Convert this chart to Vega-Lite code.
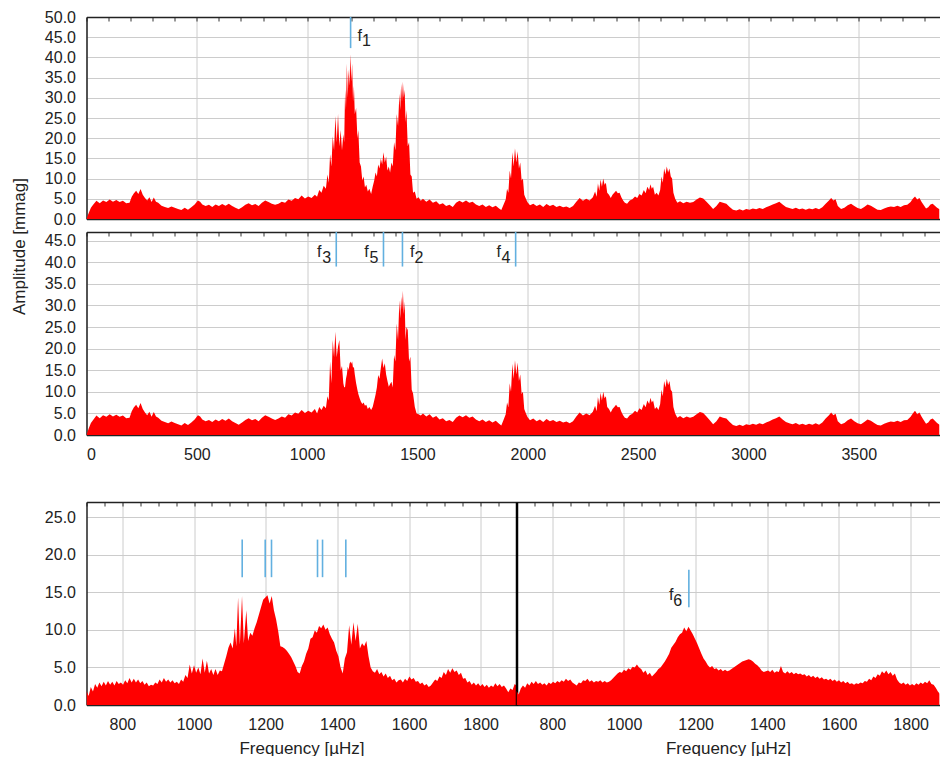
{
"$schema": "https://vega.github.io/schema/vega-lite/v6.json",
"padding": {"left": 10.5, "top": 9, "right": 0, "bottom": 0},
"background": "white",
"config": {
  "view": {"stroke": null},
  "font": "Liberation Sans",
  "axis": {"labelFont": "Liberation Sans", "labelFontSize": 16, "labelColor": "#222", "titleFont": "Liberation Sans", "titleFontSize": 17, "titleFontWeight": "normal", "titleColor": "#222", "gridColor": "#cccccc", "gridWidth": 1, "ticks": false, "domainColor": "#222", "domainWidth": 1.5, "labelPadding": 11},
  "text": {"font": "Liberation Sans", "fontSize": 16, "color": "#222", "baseline": "alphabetic"},
  "rule": {"color": "#62b0e0", "strokeWidth": 1.6}
},
"datasets": {
  "spec": [
{"f":0,"a1":0,"a2":0},{"f":10,"a1":1.5,"a2":1.5},{"f":20,"a1":2.8,"a2":2.8},{"f":30,"a1":3.5,"a2":3.5},{"f":45,"a1":4.5,"a2":4.5},{"f":60,"a1":3.9,"a2":3.9},{"f":75,"a1":4.6,"a2":4.6},{"f":90,"a1":4.2,"a2":4.2},{"f":105,"a1":4.8,"a2":4.8},{"f":120,"a1":4.3,"a2":4.3},{"f":135,"a1":4.7,"a2":4.7},{"f":150,"a1":4.2,"a2":4.2},{"f":165,"a1":4.5,"a2":4.5},{"f":180,"a1":3.9,"a2":3.9},{"f":195,"a1":4.0,"a2":4.0},{"f":205,"a1":5.5,"a2":5.5},{"f":215,"a1":6.4,"a2":6.4},{"f":225,"a1":7.0,"a2":7.0},{"f":235,"a1":6.2,"a2":6.2},{"f":245,"a1":7.4,"a2":7.4},{"f":255,"a1":6.0,"a2":6.0},{"f":265,"a1":5.2,"a2":5.2},{"f":275,"a1":4.6,"a2":4.6},{"f":285,"a1":5.4,"a2":5.4},{"f":295,"a1":4.2,"a2":4.2},{"f":305,"a1":5.3,"a2":5.3},{"f":315,"a1":4.3,"a2":4.3},{"f":325,"a1":4.0,"a2":4.0},{"f":340,"a1":3.3,"a2":3.3},{"f":355,"a1":3.0,"a2":3.0},{"f":370,"a1":2.7,"a2":2.7},{"f":385,"a1":3.1,"a2":3.1},{"f":400,"a1":2.8,"a2":2.8},{"f":415,"a1":2.5,"a2":2.5},{"f":430,"a1":2.2,"a2":2.2},{"f":445,"a1":2.8,"a2":2.8},{"f":460,"a1":2.3,"a2":2.3},{"f":475,"a1":2.9,"a2":2.9},{"f":490,"a1":3.6,"a2":3.6},{"f":505,"a1":4.6,"a2":4.6},{"f":515,"a1":4.3,"a2":4.3},{"f":525,"a1":3.6,"a2":3.6},{"f":540,"a1":3.2,"a2":3.2},{"f":555,"a1":3.5,"a2":3.5},{"f":570,"a1":3.0,"a2":3.0},{"f":585,"a1":3.6,"a2":3.6},{"f":600,"a1":3.2,"a2":3.2},{"f":615,"a1":3.7,"a2":3.7},{"f":630,"a1":3.3,"a2":3.3},{"f":645,"a1":3.8,"a2":3.8},{"f":660,"a1":3.2,"a2":3.2},{"f":675,"a1":2.8,"a2":2.8},{"f":690,"a1":2.4,"a2":2.4},{"f":705,"a1":2.9,"a2":2.9},{"f":720,"a1":3.5,"a2":3.5},{"f":735,"a1":3.9,"a2":3.9},{"f":750,"a1":3.4,"a2":3.4},{"f":765,"a1":3.7,"a2":3.7},{"f":780,"a1":3.2,"a2":3.2},{"f":795,"a1":4.0,"a2":4.0},{"f":810,"a1":4.6,"a2":4.6},{"f":825,"a1":4.2,"a2":4.2},{"f":840,"a1":3.8,"a2":3.8},{"f":855,"a1":3.5,"a2":3.5},{"f":870,"a1":3.8,"a2":3.8},{"f":885,"a1":4.3,"a2":4.3},{"f":900,"a1":4.0,"a2":4.0},{"f":915,"a1":4.8,"a2":4.8},{"f":930,"a1":4.5,"a2":4.5},{"f":945,"a1":5.2,"a2":5.2},{"f":960,"a1":4.9,"a2":4.9},{"f":975,"a1":5.8,"a2":5.8},{"f":990,"a1":5.1,"a2":5.1},{"f":1005,"a1":5.6,"a2":5.6},{"f":1020,"a1":5.2,"a2":5.2},{"f":1035,"a1":6.0,"a2":6.0},
{"f":1045,"a1":5.5,"a2":5.0},{"f":1055,"a1":7.2,"a2":6.5},{"f":1065,"a1":6.5,"a2":5.8},{"f":1075,"a1":8.2,"a2":6.8},{"f":1085,"a1":7.5,"a2":6.2},{"f":1092,"a1":11,"a2":9},{"f":1098,"a1":9,"a2":8},{"f":1104,"a1":16,"a2":17},{"f":1110,"a1":13,"a2":12},{"f":1116,"a1":20.5,"a2":22},{"f":1122,"a1":17,"a2":18},{"f":1128,"a1":25.5,"a2":23.9},{"f":1134,"a1":19,"a2":18},{"f":1140,"a1":26,"a2":20.5},{"f":1146,"a1":18,"a2":22},{"f":1152,"a1":22,"a2":15},{"f":1158,"a1":17,"a2":16},{"f":1164,"a1":21,"a2":12},{"f":1168,"a1":19,"a2":11},{"f":1172,"a1":32,"a2":11.2},{"f":1176,"a1":27,"a2":13},{"f":1180,"a1":38.5,"a2":14},{"f":1184,"a1":30,"a2":15.8},{"f":1188,"a1":37,"a2":15},{"f":1192,"a1":33,"a2":16.5},{"f":1196,"a1":40.8,"a2":17},{"f":1200,"a1":34,"a2":16.5},{"f":1204,"a1":38.5,"a2":17},{"f":1208,"a1":29,"a2":15.5},{"f":1212,"a1":33,"a2":15.8},{"f":1216,"a1":26,"a2":14},{"f":1222,"a1":27.5,"a2":12},{"f":1228,"a1":20,"a2":10.4},{"f":1232,"a1":22,"a2":9.5},{"f":1238,"a1":14,"a2":8.5},{"f":1244,"a1":13,"a2":7.7},{"f":1250,"a1":9.5,"a2":7.2},{"f":1256,"a1":10.5,"a2":7.5},{"f":1262,"a1":7.8,"a2":6.8},{"f":1268,"a1":8.5,"a2":7.0},{"f":1275,"a1":6.8,"a2":6.0},{"f":1282,"a1":7.5,"a2":6.5},{"f":1290,"a1":6.2,"a2":5.8},{"f":1297,"a1":8.0,"a2":6.5},{"f":1304,"a1":9.5,"a2":8.0},{"f":1310,"a1":11.5,"a2":9.3},{"f":1316,"a1":10.5,"a2":11},{"f":1322,"a1":13.5,"a2":13.9},{"f":1328,"a1":12.5,"a2":13},{"f":1334,"a1":15.0,"a2":15.5},{"f":1340,"a1":13.5,"a2":17.7},{"f":1346,"a1":16.5,"a2":15.5},{"f":1352,"a1":14,"a2":16.6},{"f":1358,"a1":15.5,"a2":14},{"f":1364,"a1":12,"a2":12.5},{"f":1370,"a1":13,"a2":11.2},{"f":1376,"a1":11.5,"a2":11.8},{"f":1382,"a1":14,"a2":12.3},{"f":1388,"a1":13,"a2":11},{"f":1394,"a1":19,"a2":18.5},{"f":1400,"a1":17,"a2":17},{"f":1406,"a1":26,"a2":25.8},{"f":1412,"a1":23,"a2":22},{"f":1418,"a1":31,"a2":31.2},{"f":1422,"a1":27,"a2":27},{"f":1426,"a1":33.5,"a2":32},{"f":1430,"a1":29,"a2":29},{"f":1434,"a1":34,"a2":33.4},{"f":1438,"a1":30,"a2":28},{"f":1442,"a1":32,"a2":30.9},{"f":1446,"a1":24,"a2":22},{"f":1450,"a1":27,"a2":25},{"f":1456,"a1":18,"a2":24.3},{"f":1462,"a1":19,"a2":17},{"f":1468,"a1":11,"a2":18.1},{"f":1474,"a1":10.5,"a2":10.5},{"f":1480,"a1":6.5,"a2":9.6},{"f":1488,"a1":6.8,"a2":6.5},{"f":1496,"a1":5.0,"a2":5.0},{"f":1505,"a1":5.4,"a2":4.8},
{"f":1515,"a1":4.5,"a2":4.5},{"f":1525,"a1":5.0,"a2":5.0},{"f":1540,"a1":4.3,"a2":4.3},{"f":1555,"a1":4.8,"a2":4.8},{"f":1570,"a1":4.0,"a2":4.0},{"f":1585,"a1":4.4,"a2":4.4},{"f":1600,"a1":3.6,"a2":3.6},{"f":1615,"a1":3.9,"a2":3.9},{"f":1630,"a1":3.2,"a2":3.2},{"f":1645,"a1":3.5,"a2":3.5},{"f":1660,"a1":3.0,"a2":3.0},{"f":1675,"a1":4.0,"a2":4.0},{"f":1690,"a1":4.5,"a2":4.5},{"f":1705,"a1":4.1,"a2":4.1},{"f":1720,"a1":4.6,"a2":4.6},{"f":1735,"a1":4.0,"a2":4.0},{"f":1750,"a1":4.3,"a2":4.3},{"f":1765,"a1":3.6,"a2":3.6},{"f":1780,"a1":3.2,"a2":3.2},{"f":1795,"a1":3.6,"a2":3.6},{"f":1810,"a1":3.0,"a2":3.0},{"f":1825,"a1":3.4,"a2":3.4},{"f":1840,"a1":2.9,"a2":2.9},{"f":1855,"a1":3.3,"a2":3.3},{"f":1870,"a1":2.6,"a2":2.6},{"f":1880,"a1":2.2,"a2":2.2},{"f":1890,"a1":3.5,"a2":3.5},{"f":1900,"a1":4.8,"a2":4.8},{"f":1906,"a1":7.5,"a2":7.5},{"f":1912,"a1":6.5,"a2":6.5},{"f":1918,"a1":12,"a2":12},{"f":1924,"a1":10,"a2":10},{"f":1930,"a1":16.5,"a2":16.5},{"f":1936,"a1":13,"a2":13},{"f":1942,"a1":17.5,"a2":17.3},{"f":1948,"a1":14,"a2":14},{"f":1954,"a1":16.8,"a2":16.8},{"f":1960,"a1":12.5,"a2":12.5},{"f":1966,"a1":14,"a2":14},{"f":1972,"a1":9.5,"a2":9.5},{"f":1978,"a1":10,"a2":10},{"f":1984,"a1":6,"a2":6},{"f":1990,"a1":5.2,"a2":5.2},{"f":1998,"a1":4.2,"a2":4.2},{"f":2010,"a1":3.4,"a2":3.4},{"f":2025,"a1":3.8,"a2":3.8},{"f":2040,"a1":3.2,"a2":3.2},{"f":2055,"a1":3.6,"a2":3.6},{"f":2070,"a1":3.0,"a2":3.0},{"f":2085,"a1":3.7,"a2":3.7},{"f":2100,"a1":3.2,"a2":3.2},{"f":2115,"a1":3.5,"a2":3.5},{"f":2130,"a1":3.0,"a2":3.0},{"f":2145,"a1":3.3,"a2":3.3},{"f":2160,"a1":2.9,"a2":2.9},{"f":2175,"a1":3.1,"a2":3.1},{"f":2190,"a1":2.7,"a2":2.7},{"f":2205,"a1":3.2,"a2":3.2},{"f":2220,"a1":4.3,"a2":4.3},{"f":2235,"a1":5.2,"a2":5.2},{"f":2250,"a1":4.5,"a2":4.5},{"f":2265,"a1":5.0,"a2":5.0},{"f":2280,"a1":4.6,"a2":4.6},{"f":2295,"a1":5.4,"a2":5.4},{"f":2305,"a1":6.8,"a2":6.8},{"f":2312,"a1":5.5,"a2":5.5},{"f":2318,"a1":8.8,"a2":8.8},{"f":2324,"a1":7.0,"a2":7.0},{"f":2330,"a1":9.8,"a2":9.8},{"f":2336,"a1":8.0,"a2":8.0},{"f":2342,"a1":10,"a2":10},{"f":2348,"a1":8.5,"a2":8.5},{"f":2354,"a1":9.0,"a2":9.0},{"f":2360,"a1":6.5,"a2":6.5},{"f":2368,"a1":6.0,"a2":6.0},{"f":2376,"a1":5.2,"a2":5.2},{"f":2384,"a1":6.0,"a2":6.0},{"f":2392,"a1":6.5,"a2":6.5},{"f":2400,"a1":7.0,"a2":7.0},{"f":2408,"a1":6.4,"a2":6.4},{"f":2416,"a1":6.5,"a2":6.5},{"f":2424,"a1":5.4,"a2":5.4},{"f":2432,"a1":4.6,"a2":4.6},{"f":2440,"a1":4.0,"a2":4.0},{"f":2450,"a1":3.8,"a2":3.8},{"f":2462,"a1":4.6,"a2":4.6},{"f":2474,"a1":4.9,"a2":4.9},{"f":2486,"a1":5.6,"a2":5.6},{"f":2496,"a1":5.2,"a2":5.2},{"f":2506,"a1":6.2,"a2":6.2},{"f":2516,"a1":5.8,"a2":5.8},{"f":2526,"a1":7.2,"a2":7.2},{"f":2534,"a1":6.4,"a2":6.4},{"f":2542,"a1":8.0,"a2":8.0},{"f":2550,"a1":7.2,"a2":7.2},{"f":2556,"a1":8.6,"a2":8.6},{"f":2562,"a1":7.5,"a2":7.5},{"f":2568,"a1":8.0,"a2":8.0},{"f":2576,"a1":6.0,"a2":6.0},{"f":2584,"a1":6.5,"a2":6.5},{"f":2592,"a1":5.8,"a2":5.8},{"f":2600,"a1":7.2,"a2":7.2},{"f":2606,"a1":10.5,"a2":10.5},{"f":2612,"a1":9,"a2":9},{"f":2618,"a1":12.5,"a2":12.5},{"f":2624,"a1":11,"a2":11},{"f":2630,"a1":13,"a2":13},{"f":2636,"a1":11.5,"a2":11.5},{"f":2642,"a1":12.5,"a2":12.5},{"f":2648,"a1":10.5,"a2":10.5},{"f":2654,"a1":10,"a2":10},{"f":2660,"a1":6.5,"a2":6.5},{"f":2668,"a1":5.0,"a2":5.0},{"f":2678,"a1":4.0,"a2":4.0},{"f":2690,"a1":4.4,"a2":4.4},{"f":2705,"a1":3.9,"a2":3.9},{"f":2720,"a1":4.3,"a2":4.3},{"f":2735,"a1":4.0,"a2":4.0},{"f":2750,"a1":4.2,"a2":4.2},{"f":2765,"a1":4.8,"a2":4.8},{"f":2780,"a1":5.3,"a2":5.3},{"f":2795,"a1":5.1,"a2":5.1},{"f":2810,"a1":4.3,"a2":4.3},{"f":2825,"a1":3.4,"a2":3.4},{"f":2840,"a1":2.5,"a2":2.5},{"f":2855,"a1":3.2,"a2":3.2},{"f":2870,"a1":4.3,"a2":4.3},{"f":2885,"a1":4.0,"a2":4.0},{"f":2900,"a1":3.8,"a2":3.8},{"f":2915,"a1":3.0,"a2":3.0},{"f":2930,"a1":2.3,"a2":2.3},{"f":2945,"a1":2.1,"a2":2.1},{"f":2960,"a1":2.4,"a2":2.4},{"f":2975,"a1":2.1,"a2":2.1},{"f":2990,"a1":2.5,"a2":2.5},{"f":3005,"a1":2.3,"a2":2.3},{"f":3020,"a1":2.6,"a2":2.6},{"f":3035,"a1":2.4,"a2":2.4},{"f":3050,"a1":2.7,"a2":2.7},{"f":3065,"a1":2.5,"a2":2.5},{"f":3080,"a1":2.9,"a2":2.9},{"f":3095,"a1":3.2,"a2":3.2},{"f":3110,"a1":3.6,"a2":3.6},{"f":3125,"a1":3.9,"a2":3.9},{"f":3140,"a1":4.3,"a2":4.3},{"f":3155,"a1":3.6,"a2":3.6},{"f":3170,"a1":3.0,"a2":3.0},{"f":3185,"a1":2.7,"a2":2.7},{"f":3200,"a1":2.5,"a2":2.5},{"f":3215,"a1":2.8,"a2":2.8},{"f":3230,"a1":2.4,"a2":2.4},{"f":3245,"a1":2.6,"a2":2.6},{"f":3260,"a1":2.3,"a2":2.3},{"f":3275,"a1":2.6,"a2":2.6},{"f":3290,"a1":2.4,"a2":2.4},{"f":3305,"a1":2.7,"a2":2.7},{"f":3320,"a1":2.4,"a2":2.4},{"f":3335,"a1":2.9,"a2":2.9},{"f":3350,"a1":3.8,"a2":3.8},{"f":3365,"a1":4.6,"a2":4.6},{"f":3375,"a1":5.2,"a2":5.2},{"f":3385,"a1":4.6,"a2":4.6},{"f":3395,"a1":4.9,"a2":4.9},{"f":3405,"a1":3.2,"a2":3.2},{"f":3420,"a1":2.5,"a2":2.5},{"f":3435,"a1":2.8,"a2":2.8},{"f":3450,"a1":3.4,"a2":3.4},{"f":3465,"a1":3.8,"a2":3.8},{"f":3480,"a1":3.2,"a2":3.2},{"f":3495,"a1":2.7,"a2":2.7},{"f":3510,"a1":2.5,"a2":2.5},{"f":3525,"a1":3.0,"a2":3.0},{"f":3540,"a1":3.6,"a2":3.6},{"f":3555,"a1":3.3,"a2":3.3},{"f":3570,"a1":2.8,"a2":2.8},{"f":3585,"a1":2.3,"a2":2.3},{"f":3600,"a1":2.2,"a2":2.2},{"f":3615,"a1":2.6,"a2":2.6},{"f":3630,"a1":2.9,"a2":2.9},{"f":3645,"a1":3.1,"a2":3.1},{"f":3660,"a1":3.0,"a2":3.0},{"f":3675,"a1":3.3,"a2":3.3},{"f":3690,"a1":3.0,"a2":3.0},{"f":3705,"a1":3.4,"a2":3.4},{"f":3720,"a1":3.5,"a2":3.5},{"f":3735,"a1":4.2,"a2":4.2},{"f":3745,"a1":5.0,"a2":5.0},{"f":3755,"a1":5.6,"a2":5.6},{"f":3765,"a1":4.8,"a2":4.8},{"f":3775,"a1":5.2,"a2":5.2},{"f":3785,"a1":4.2,"a2":4.2},{"f":3795,"a1":3.4,"a2":3.4},{"f":3805,"a1":2.6,"a2":2.6},{"f":3815,"a1":2.9,"a2":2.9},{"f":3825,"a1":3.6,"a2":3.6},{"f":3835,"a1":3.8,"a2":3.8},{"f":3845,"a1":3.3,"a2":3.3},{"f":3855,"a1":2.8,"a2":2.8},{"f":3866,"a1":2.4,"a2":2.4}
  ],
  "bl": [
{"f":700,"a":1.9},{"f":706,"a":1.2},{"f":712,"a":2.4},{"f":718,"a":1.8},{"f":724,"a":2.8},{"f":730,"a":2.3},{"f":736,"a":3.0},{"f":742,"a":2.5},{"f":748,"a":3.1},{"f":754,"a":2.6},{"f":760,"a":3.2},{"f":766,"a":2.7},{"f":772,"a":3.1},{"f":778,"a":2.6},{"f":784,"a":3.2},{"f":790,"a":2.8},{"f":796,"a":3.0},{"f":802,"a":2.7},{"f":808,"a":3.3},{"f":814,"a":2.9},{"f":820,"a":3.6},{"f":826,"a":3.0},{"f":832,"a":3.5},{"f":838,"a":3.0},{"f":844,"a":3.4},{"f":850,"a":2.9},{"f":856,"a":3.2},{"f":862,"a":2.7},{"f":868,"a":3.0},{"f":874,"a":2.5},{"f":880,"a":2.7},{"f":886,"a":2.6},{"f":892,"a":3.0},{"f":898,"a":2.8},{"f":904,"a":3.4},{"f":910,"a":3.0},{"f":916,"a":3.6},{"f":922,"a":3.1},{"f":928,"a":3.4},{"f":934,"a":3.0},{"f":940,"a":3.3},{"f":946,"a":2.9},{"f":952,"a":3.1},{"f":958,"a":2.8},{"f":964,"a":3.4},{"f":970,"a":3.1},{"f":976,"a":4.0},{"f":982,"a":3.6},{"f":988,"a":5.4},{"f":994,"a":4.2},{"f":1000,"a":5.3},{"f":1006,"a":4.3},{"f":1012,"a":5.0},{"f":1018,"a":4.1},{"f":1024,"a":6.2},{"f":1030,"a":4.3},{"f":1036,"a":5.9},{"f":1042,"a":4.2},{"f":1048,"a":4.8},{"f":1054,"a":4.0},{"f":1060,"a":4.8},{"f":1066,"a":4.0},{"f":1072,"a":4.6},{"f":1078,"a":4.5},{"f":1084,"a":5.5},{"f":1090,"a":6.5},{"f":1096,"a":7.6},{"f":1102,"a":8.3},{"f":1108,"a":7.5},{"f":1114,"a":10.2},{"f":1118,"a":7.8},{"f":1123,"a":14.3},{"f":1128,"a":8.0},{"f":1134,"a":14.5},{"f":1139,"a":8.2},{"f":1146,"a":12.6},{"f":1151,"a":8.5},{"f":1157,"a":9.6},{"f":1163,"a":9.2},{"f":1169,"a":10.2},{"f":1175,"a":11},{"f":1181,"a":12},{"f":1187,"a":13},{"f":1193,"a":14},{"f":1199,"a":14.3},{"f":1205,"a":14.6},{"f":1211,"a":13.5},{"f":1217,"a":14.5},{"f":1223,"a":12.6},{"f":1229,"a":11.4},{"f":1235,"a":9.8},{"f":1241,"a":7.8},{"f":1247,"a":7.7},{"f":1253,"a":7.5},{"f":1259,"a":7.2},{"f":1265,"a":6.8},{"f":1271,"a":6.4},{"f":1277,"a":5.8},{"f":1283,"a":5.2},{"f":1289,"a":4.4},{"f":1295,"a":4.2},{"f":1301,"a":5.2},{"f":1307,"a":5.8},{"f":1313,"a":6.8},{"f":1319,"a":7.5},{"f":1325,"a":8.8},{"f":1331,"a":9.0},{"f":1337,"a":9.9},{"f":1343,"a":9.6},{"f":1349,"a":10.5},{"f":1355,"a":10.2},{"f":1361,"a":10.7},{"f":1367,"a":10.0},{"f":1373,"a":10.3},{"f":1379,"a":9.4},{"f":1385,"a":8.8},{"f":1391,"a":8.3},{"f":1397,"a":7.2},{"f":1403,"a":6.5},{"f":1409,"a":5.0},{"f":1415,"a":4.2},{"f":1421,"a":6.2},{"f":1427,"a":7.0},{"f":1433,"a":10.6},{"f":1439,"a":8.0},{"f":1445,"a":11.0},{"f":1451,"a":8.5},{"f":1457,"a":10.8},{"f":1463,"a":7.5},{"f":1469,"a":8.2},{"f":1475,"a":7.8},{"f":1481,"a":8.5},{"f":1487,"a":6.5},{"f":1493,"a":5.0},{"f":1499,"a":4.5},{"f":1505,"a":4.3},{"f":1511,"a":4.8},{"f":1517,"a":4.1},{"f":1523,"a":4.4},{"f":1529,"a":3.8},{"f":1535,"a":4.2},{"f":1541,"a":3.6},{"f":1547,"a":3.9},{"f":1553,"a":3.3},{"f":1559,"a":3.5},{"f":1565,"a":3.0},{"f":1571,"a":3.3},{"f":1577,"a":3.4},{"f":1583,"a":3.0},{"f":1589,"a":3.5},{"f":1595,"a":3.2},{"f":1601,"a":3.8},{"f":1607,"a":3.4},{"f":1613,"a":3.6},{"f":1619,"a":3.1},{"f":1625,"a":3.2},{"f":1631,"a":2.8},{"f":1637,"a":3.0},{"f":1643,"a":2.6},{"f":1649,"a":2.8},{"f":1655,"a":2.4},{"f":1661,"a":2.6},{"f":1667,"a":3.0},{"f":1673,"a":3.4},{"f":1679,"a":3.2},{"f":1685,"a":3.8},{"f":1691,"a":3.6},{"f":1697,"a":4.4},{"f":1703,"a":4.0},{"f":1709,"a":4.8},{"f":1715,"a":4.3},{"f":1721,"a":4.9},{"f":1727,"a":4.4},{"f":1733,"a":4.6},{"f":1739,"a":4.0},{"f":1745,"a":4.3},{"f":1751,"a":3.5},{"f":1757,"a":3.6},{"f":1763,"a":3.0},{"f":1769,"a":3.2},{"f":1775,"a":2.7},{"f":1781,"a":3.0},{"f":1787,"a":2.6},{"f":1793,"a":2.9},{"f":1799,"a":2.5},{"f":1805,"a":2.8},{"f":1811,"a":2.4},{"f":1817,"a":2.7},{"f":1823,"a":2.3},{"f":1829,"a":2.6},{"f":1835,"a":2.4},{"f":1841,"a":2.9},{"f":1847,"a":2.5},{"f":1853,"a":2.8},{"f":1859,"a":2.4},{"f":1865,"a":2.6},{"f":1871,"a":2.2},{"f":1877,"a":1.7},{"f":1883,"a":2.2},{"f":1889,"a":2.0},{"f":1895,"a":2.8},{"f":1900,"a":2.6}
  ],
  "br": [
{"f":700,"a":1.9},{"f":706,"a":1.4},{"f":712,"a":2.2},{"f":718,"a":2.6},{"f":724,"a":2.3},{"f":730,"a":2.9},{"f":736,"a":2.6},{"f":742,"a":3.1},{"f":748,"a":2.8},{"f":754,"a":3.2},{"f":760,"a":2.8},{"f":766,"a":3.0},{"f":772,"a":2.7},{"f":778,"a":2.9},{"f":784,"a":2.6},{"f":790,"a":3.0},{"f":796,"a":2.8},{"f":802,"a":3.1},{"f":808,"a":2.9},{"f":814,"a":3.2},{"f":820,"a":3.0},{"f":826,"a":3.3},{"f":832,"a":3.1},{"f":838,"a":3.5},{"f":844,"a":3.2},{"f":850,"a":3.4},{"f":856,"a":3.0},{"f":862,"a":2.8},{"f":868,"a":2.6},{"f":874,"a":3.0},{"f":880,"a":2.9},{"f":886,"a":3.3},{"f":892,"a":3.2},{"f":898,"a":3.5},{"f":904,"a":3.1},{"f":910,"a":3.3},{"f":916,"a":3.0},{"f":922,"a":3.2},{"f":928,"a":3.1},{"f":934,"a":3.3},{"f":940,"a":3.0},{"f":946,"a":3.2},{"f":952,"a":3.0},{"f":958,"a":3.1},{"f":964,"a":3.3},{"f":970,"a":3.6},{"f":976,"a":3.9},{"f":982,"a":4.2},{"f":988,"a":4.4},{"f":994,"a":4.3},{"f":1000,"a":4.7},{"f":1006,"a":4.5},{"f":1012,"a":4.9},{"f":1018,"a":4.7},{"f":1024,"a":5.1},{"f":1030,"a":5.0},{"f":1036,"a":5.4},{"f":1042,"a":5.0},{"f":1048,"a":4.8},{"f":1054,"a":4.3},{"f":1060,"a":4.6},{"f":1066,"a":4.0},{"f":1072,"a":4.3},{"f":1078,"a":3.8},{"f":1084,"a":4.1},{"f":1090,"a":4.4},{"f":1096,"a":4.8},{"f":1102,"a":5.0},{"f":1108,"a":5.4},{"f":1114,"a":5.8},{"f":1120,"a":6.3},{"f":1126,"a":6.8},{"f":1132,"a":7.6},{"f":1138,"a":8.0},{"f":1144,"a":8.4},{"f":1150,"a":9.0},{"f":1156,"a":9.4},{"f":1162,"a":9.6},{"f":1168,"a":10.3},{"f":1174,"a":9.8},{"f":1180,"a":10.4},{"f":1186,"a":9.9},{"f":1192,"a":9.4},{"f":1198,"a":8.8},{"f":1204,"a":8.2},{"f":1210,"a":7.5},{"f":1216,"a":6.8},{"f":1222,"a":6.2},{"f":1228,"a":5.8},{"f":1234,"a":5.3},{"f":1240,"a":5.0},{"f":1246,"a":5.2},{"f":1252,"a":4.8},{"f":1258,"a":4.9},{"f":1264,"a":4.6},{"f":1270,"a":4.8},{"f":1276,"a":4.5},{"f":1282,"a":4.7},{"f":1288,"a":4.5},{"f":1294,"a":4.6},{"f":1300,"a":4.8},{"f":1306,"a":5.0},{"f":1312,"a":5.2},{"f":1318,"a":5.4},{"f":1324,"a":5.6},{"f":1330,"a":5.8},{"f":1336,"a":5.9},{"f":1342,"a":6.0},{"f":1348,"a":6.1},{"f":1354,"a":6.0},{"f":1360,"a":5.8},{"f":1366,"a":5.5},{"f":1372,"a":5.3},{"f":1378,"a":5.0},{"f":1384,"a":4.6},{"f":1390,"a":4.4},{"f":1396,"a":4.5},{"f":1402,"a":4.6},{"f":1408,"a":4.4},{"f":1414,"a":4.7},{"f":1420,"a":4.3},{"f":1426,"a":4.5},{"f":1432,"a":4.4},{"f":1438,"a":5.2},{"f":1444,"a":4.4},{"f":1450,"a":4.2},{"f":1456,"a":4.5},{"f":1462,"a":4.2},{"f":1468,"a":4.4},{"f":1474,"a":4.1},{"f":1480,"a":4.3},{"f":1486,"a":4.1},{"f":1492,"a":4.2},{"f":1498,"a":4.0},{"f":1504,"a":4.1},{"f":1510,"a":3.8},{"f":1516,"a":4.0},{"f":1522,"a":3.7},{"f":1528,"a":3.9},{"f":1534,"a":3.6},{"f":1540,"a":3.8},{"f":1546,"a":3.5},{"f":1552,"a":3.7},{"f":1558,"a":3.4},{"f":1564,"a":3.5},{"f":1570,"a":3.3},{"f":1576,"a":3.5},{"f":1582,"a":3.2},{"f":1588,"a":3.4},{"f":1594,"a":3.1},{"f":1600,"a":3.3},{"f":1606,"a":3.0},{"f":1612,"a":3.2},{"f":1618,"a":2.9},{"f":1624,"a":3.1},{"f":1630,"a":2.8},{"f":1636,"a":2.9},{"f":1642,"a":2.7},{"f":1648,"a":2.9},{"f":1654,"a":2.8},{"f":1660,"a":3.0},{"f":1666,"a":2.9},{"f":1672,"a":3.2},{"f":1678,"a":3.1},{"f":1684,"a":3.5},{"f":1690,"a":3.3},{"f":1696,"a":3.8},{"f":1702,"a":3.6},{"f":1708,"a":4.1},{"f":1714,"a":3.9},{"f":1720,"a":4.5},{"f":1726,"a":4.2},{"f":1732,"a":4.6},{"f":1738,"a":4.1},{"f":1744,"a":4.4},{"f":1750,"a":3.9},{"f":1756,"a":4.2},{"f":1762,"a":3.4},{"f":1768,"a":3.0},{"f":1774,"a":2.8},{"f":1780,"a":3.0},{"f":1786,"a":2.7},{"f":1792,"a":2.9},{"f":1798,"a":2.6},{"f":1804,"a":2.8},{"f":1810,"a":2.6},{"f":1816,"a":2.9},{"f":1822,"a":2.7},{"f":1828,"a":3.0},{"f":1834,"a":2.8},{"f":1840,"a":3.1},{"f":1846,"a":2.9},{"f":1852,"a":3.3},{"f":1858,"a":2.8},{"f":1864,"a":2.7},{"f":1870,"a":2.3},{"f":1876,"a":1.8},{"f":1881,"a":1.5}
  ],
  "m1": [{"f":1197,"lo":42.3,"hi":50,"n":"1"}],
  "m2": [{"f":1132,"lo":39,"hi":47,"n":"3"},{"f":1346,"lo":39,"hi":47,"n":"5"},{"f":1432,"lo":39,"hi":47,"n":"2"},{"f":1945,"lo":39,"hi":47,"n":"4"}],
  "m3": [{"f":1134.5,"lo":17,"hi":22},{"f":1198.7,"lo":17,"hi":22},{"f":1216.3,"lo":17,"hi":22},{"f":1344.7,"lo":17,"hi":22},{"f":1358.7,"lo":17,"hi":22},{"f":1423.7,"lo":17,"hi":22}],
  "m4": [{"f":1181,"lo":13,"hi":18,"n":"6"}]
},
"vconcat": [
 {"vconcat": [
  {"width": 853, "height": 202,
   "layer": [
    {"data": {"name": "spec"}, "mark": {"type": "area", "clip": true, "color": "#ff0000"},
     "encoding": {
      "x": {"field": "f", "type": "quantitative", "scale": {"domain": [0, 3866], "nice": false, "zero": false}, "axis": {"orient": "bottom", "values": [0,500,1000,1500,2000,2500,3000,3500], "labels": false, "grid": true, "domain": true, "title": null}},
      "y": {"field": "a1", "type": "quantitative", "scale": {"domain": [0, 50], "nice": false}, "axis": {"values": [0,5,10,15,20,25,30,35,40,45,50], "format": ".1f", "grid": true, "domain": true, "title": "Amplitude [mmag]", "titleX": -62, "titleY": 229, "titleBaseline": "alphabetic", "titleAlign": "center"}}
     }},
    {"data": {"name": "m1"}, "mark": "rule",
     "encoding": {
      "x": {"field": "f", "type": "quantitative", "scale": {"domain": [0, 3866], "nice": false, "zero": false}, "axis": {"orient": "top", "labels": false, "grid": false, "domain": true, "ticks": true, "tickSize": -4, "tickColor": "#333", "values": [0,100,200,300,400,500,600,700,800,900,1000,1100,1200,1300,1400,1500,1600,1700,1800,1900,2000,2100,2200,2300,2400,2500,2600,2700,2800,2900,3000,3100,3200,3300,3400,3500,3600,3700,3800], "title": null}},
      "y": {"field": "lo", "type": "quantitative", "axis": {"values": [0,5,10,15,20,25,30,35,40,45,50], "format": ".1f", "grid": true, "domain": true, "title": "Amplitude [mmag]", "titleX": -62, "titleY": 229, "titleBaseline": "alphabetic", "titleAlign": "center"}}, "y2": {"field": "hi"}
     }},
    {"data": {"name": "m1"}, "mark": {"type": "text", "align": "left", "dx": 7, "dy": -7.4},
     "encoding": {"x": {"field": "f", "type": "quantitative", "axis": null}, "y": {"field": "lo", "type": "quantitative", "axis": {"values": [0,5,10,15,20,25,30,35,40,45,50], "format": ".1f", "grid": true, "domain": true, "title": "Amplitude [mmag]", "titleX": -62, "titleY": 229, "titleBaseline": "alphabetic", "titleAlign": "center"}}, "text": {"value": "f"}}},
    {"data": {"name": "m1"}, "mark": {"type": "text", "align": "left", "dx": 11.5, "dy": -2.4},
     "encoding": {"x": {"field": "f", "type": "quantitative", "axis": null}, "y": {"field": "lo", "type": "quantitative", "axis": {"values": [0,5,10,15,20,25,30,35,40,45,50], "format": ".1f", "grid": true, "domain": true, "title": "Amplitude [mmag]", "titleX": -62, "titleY": 229, "titleBaseline": "alphabetic", "titleAlign": "center"}}, "text": {"field": "n"}}}
   ],
   "resolve": {"axis": {"x": "independent"}}
  },
  {"width": 853, "height": 203,
   "layer": [
    {"data": {"name": "spec"}, "mark": {"type": "area", "clip": true, "color": "#ff0000"},
     "encoding": {
      "x": {"field": "f", "type": "quantitative", "scale": {"domain": [0, 3866], "nice": false, "zero": false}, "axis": {"orient": "bottom", "values": [0,500,1000,1500,2000,2500,3000,3500], "format": "d", "grid": true, "domain": true, "title": null}},
      "y": {"field": "a2", "type": "quantitative", "scale": {"domain": [0, 47], "nice": false}, "axis": {"values": [0,5,10,15,20,25,30,35,40,45], "format": ".1f", "grid": true, "domain": true, "title": null}}
     }},
    {"data": {"name": "m2"}, "mark": "rule",
     "encoding": {
      "x": {"field": "f", "type": "quantitative", "scale": {"domain": [0, 3866], "nice": false, "zero": false}, "axis": {"orient": "top", "labels": false, "grid": false, "domain": true, "ticks": true, "tickSize": -4, "tickColor": "#333", "values": [0,100,200,300,400,500,600,700,800,900,1000,1100,1200,1300,1400,1500,1600,1700,1800,1900,2000,2100,2200,2300,2400,2500,2600,2700,2800,2900,3000,3100,3200,3300,3400,3500,3600,3700,3800], "title": null}},
      "y": {"field": "lo", "type": "quantitative", "axis": {"values": [0,5,10,15,20,25,30,35,40,45], "format": ".1f", "grid": true, "domain": true, "title": null}}, "y2": {"field": "hi"}
     }},
    {"data": {"name": "m2"}, "transform": [{"filter": "datum.n != '2'"}], "mark": {"type": "text", "align": "right", "dx": -14.7, "dy": -9.2},
     "encoding": {"x": {"field": "f", "type": "quantitative", "axis": null}, "y": {"field": "lo", "type": "quantitative", "axis": {"values": [0,5,10,15,20,25,30,35,40,45], "format": ".1f", "grid": true, "domain": true, "title": null}}, "text": {"value": "f"}}},
    {"data": {"name": "m2"}, "transform": [{"filter": "datum.n != '2'"}], "mark": {"type": "text", "align": "right", "dx": -5.2, "dy": -3.2},
     "encoding": {"x": {"field": "f", "type": "quantitative", "axis": null}, "y": {"field": "lo", "type": "quantitative", "axis": {"values": [0,5,10,15,20,25,30,35,40,45], "format": ".1f", "grid": true, "domain": true, "title": null}}, "text": {"field": "n"}}},
    {"data": {"name": "m2"}, "transform": [{"filter": "datum.n == '2'"}], "mark": {"type": "text", "align": "left", "dx": 7.5, "dy": -9.2},
     "encoding": {"x": {"field": "f", "type": "quantitative", "axis": null}, "y": {"field": "lo", "type": "quantitative", "axis": {"values": [0,5,10,15,20,25,30,35,40,45], "format": ".1f", "grid": true, "domain": true, "title": null}}, "text": {"value": "f"}}},
    {"data": {"name": "m2"}, "transform": [{"filter": "datum.n == '2'"}], "mark": {"type": "text", "align": "left", "dx": 12, "dy": -3.2},
     "encoding": {"x": {"field": "f", "type": "quantitative", "axis": null}, "y": {"field": "lo", "type": "quantitative", "axis": {"values": [0,5,10,15,20,25,30,35,40,45], "format": ".1f", "grid": true, "domain": true, "title": null}}, "text": {"field": "n"}}}
   ],
   "resolve": {"axis": {"x": "independent"}}
  }
 ], "spacing": 13, "bounds": "flush"},
 {"hconcat": [
  {"width": 430, "height": 203,
   "layer": [
    {"data": {"name": "bl"}, "mark": {"type": "area", "clip": true, "color": "#ff0000"},
     "encoding": {
      "x": {"field": "f", "type": "quantitative", "scale": {"domain": [700, 1900], "nice": false, "zero": false}, "axis": {"orient": "bottom", "values": [800,1000,1200,1400,1600,1800], "format": "d", "grid": true, "domain": true, "title": "Frequency [µHz]", "titlePadding": 8}},
      "y": {"field": "a", "type": "quantitative", "scale": {"domain": [0, 27], "nice": false}, "axis": {"values": [0,5,10,15,20,25], "format": ".1f", "grid": true, "domain": true, "title": null}}
     }},
    {"data": {"name": "m3"}, "mark": "rule",
     "encoding": {
      "x": {"field": "f", "type": "quantitative", "scale": {"domain": [700, 1900], "nice": false, "zero": false}, "axis": {"orient": "top", "labels": false, "grid": false, "domain": true, "ticks": true, "tickSize": -4, "tickColor": "#333", "values": [700,750,800,850,900,950,1000,1050,1100,1150,1200,1250,1300,1350,1400,1450,1500,1550,1600,1650,1700,1750,1800,1850], "title": null}},
      "y": {"field": "lo", "type": "quantitative", "axis": {"values": [0,5,10,15,20,25], "format": ".1f", "grid": true, "domain": true, "title": null}}, "y2": {"field": "hi"}
     }}
   ],
   "resolve": {"axis": {"x": "independent"}}
  },
  {"width": 423, "height": 203,
   "layer": [
    {"data": {"name": "br"}, "mark": {"type": "area", "clip": true, "color": "#ff0000"},
     "encoding": {
      "x": {"field": "f", "type": "quantitative", "scale": {"domain": [700, 1880.5], "nice": false, "zero": false}, "axis": {"orient": "bottom", "values": [800,1000,1200,1400,1600,1800], "format": "d", "grid": true, "domain": true, "title": "Frequency [µHz]", "titlePadding": 8}},
      "y": {"field": "a", "type": "quantitative", "scale": {"domain": [0, 27], "nice": false}, "axis": {"values": [0,5,10,15,20,25], "labels": false, "grid": true, "domain": true, "domainColor": "#000", "domainWidth": 2.5, "title": null}}
     }},
    {"data": {"name": "m4"}, "mark": "rule",
     "encoding": {
      "x": {"field": "f", "type": "quantitative", "scale": {"domain": [700, 1880.5], "nice": false, "zero": false}, "axis": {"orient": "top", "labels": false, "grid": false, "domain": true, "ticks": true, "tickSize": -4, "tickColor": "#333", "values": [700,750,800,850,900,950,1000,1050,1100,1150,1200,1250,1300,1350,1400,1450,1500,1550,1600,1650,1700,1750,1800,1850], "title": null}},
      "y": {"field": "lo", "type": "quantitative", "axis": {"values": [0,5,10,15,20,25], "labels": false, "grid": true, "domain": true, "domainColor": "#000", "domainWidth": 2.5, "title": null}}, "y2": {"field": "hi"}
     }},
    {"data": {"name": "m4"}, "mark": {"type": "text", "align": "right", "dx": -15.5, "dy": -7},
     "encoding": {"x": {"field": "f", "type": "quantitative", "axis": null}, "y": {"field": "lo", "type": "quantitative", "axis": {"values": [0,5,10,15,20,25], "labels": false, "grid": true, "domain": true, "domainColor": "#000", "domainWidth": 2.5, "title": null}}, "text": {"value": "f"}}},
    {"data": {"name": "m4"}, "mark": {"type": "text", "align": "right", "dx": -6.7, "dy": -1.4},
     "encoding": {"x": {"field": "f", "type": "quantitative", "axis": null}, "y": {"field": "lo", "type": "quantitative", "axis": {"values": [0,5,10,15,20,25], "labels": false, "grid": true, "domain": true, "domainColor": "#000", "domainWidth": 2.5, "title": null}}, "text": {"field": "n"}}}
   ],
   "resolve": {"axis": {"x": "independent"}}
  }
 ], "spacing": 0, "bounds": "flush"}
],
"spacing": 39
}
